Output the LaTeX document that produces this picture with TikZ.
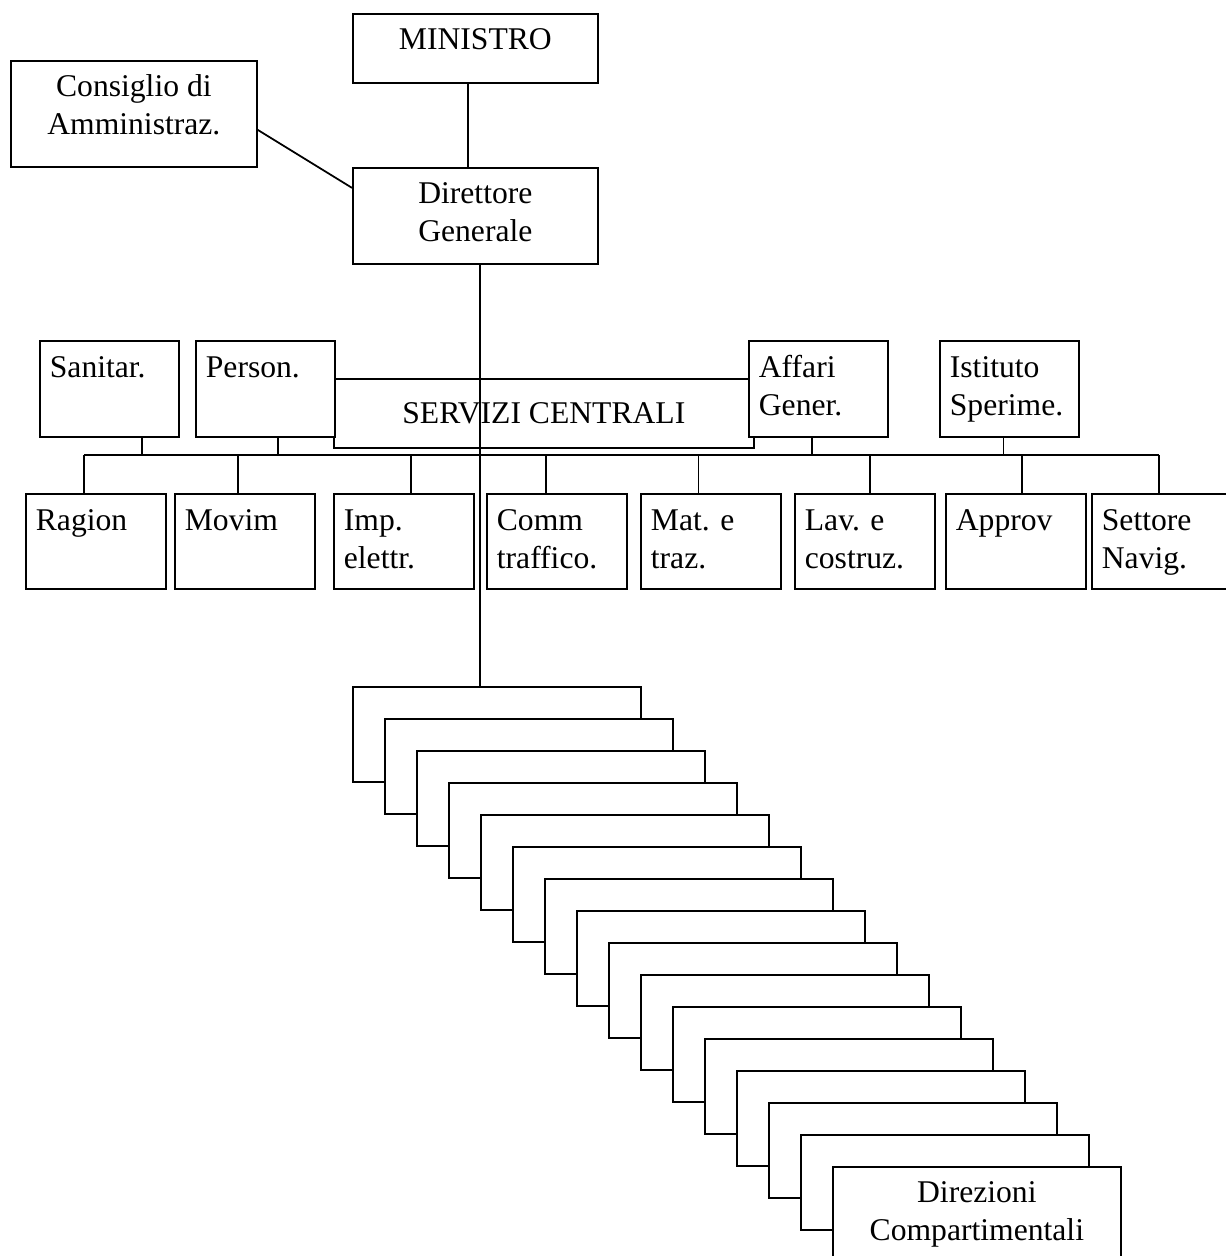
\documentclass[tikz,border=0pt]{standalone}
\usepackage{fontspec}
\setmainfont{Liberation Serif}
\usetikzlibrary{calc}

% text set at the top of a box, left or centred
\newcommand{\lcell}[3]{\parbox[c][#2][t]{#1}{\raggedright\leftskip=0.2cm\vspace*{0.21cm}\strut#3}}
\newcommand{\ccell}[3]{\parbox[c][#2][t]{#1}{\centering\vspace*{0.19cm}\strut#3}}

\begin{document}
\begin{tikzpicture}[
  x=0.02cm, y=-0.02cm,
  box/.style={draw, fill=white, line width=1pt, inner sep=0pt, anchor=north west,
    font=\fontsize{18}{21.6}\selectfont},
  link/.style={line width=1pt}
]
\useasboundingbox (0,0) rectangle (1225,1256);

% top
\node[box] (ministro) at (352,13) {\ccell{4.9cm}{1.38cm}{MINISTRO}};
\node[box] (consiglio) at (10,60) {\ccell{4.92cm}{2.12cm}{Consiglio di\\Amministraz.}};
\node[box] (dg) at (352,167) {\ccell{4.9cm}{1.92cm}{Direttore\\Generale}};
\draw[link] ([xshift=-0.15cm]ministro.south) -- ([xshift=-0.15cm]dg.north);
\draw[link] ([yshift=-0.32cm]consiglio.east) -- ([yshift=0.56cm]dg.west);

% servizi centrali
\node[box, minimum width=8.4cm, minimum height=1.38cm] (servizi) at (333,378) {SERVIZI CENTRALI};
\node[box] (sanitar) at (39,340) {\lcell{2.78cm}{1.92cm}{Sanitar.}};
\node[box] (person) at (195,340) {\lcell{2.78cm}{1.92cm}{Person.}};
\node[box] (affari) at (748,340) {\lcell{2.78cm}{1.92cm}{Affari\\Gener.}};
\node[box] (istituto) at (939,340) {\lcell{2.78cm}{1.92cm}{Istituto\\Sperime.}};

\node[box] (ragion) at (25,493) {\lcell{2.8cm}{1.9cm}{Ragion}};
\node[box] (movim) at (174,493) {\lcell{2.8cm}{1.9cm}{Movim}};
\node[box] (imp) at (333,493) {\lcell{2.8cm}{1.9cm}{Imp.\\elettr.}};
\node[box] (comm) at (486,493) {\lcell{2.8cm}{1.9cm}{Comm\\traffico.}};
\node[box] (mat) at (640,493) {\lcell{2.8cm}{1.9cm}{Mat. e\\traz.}};
\node[box] (lav) at (794,493) {\lcell{2.8cm}{1.9cm}{Lav. e\\costruz.}};
\node[box] (approv) at (945,493) {\lcell{2.8cm}{1.9cm}{Approv}};
\node[box] (settore) at (1091,493) {\lcell{2.8cm}{1.9cm}{Settore\\Navig.}};

% bus
\coordinate (bus) at (0,455);
\draw[link] ([xshift=-0.23cm]ragion.north |- bus) -- ([xshift=-0.06cm]settore.north |- bus);
\foreach \n/\s in {sanitar/0.66, person/0.26, affari/-0.13, istituto/-0.12}
  \draw[link] ([xshift=\s cm]\n.south) -- ([xshift=\s cm]\n.south |- bus);
\foreach \n/\s in {ragion/-0.23, movim/-0.14, imp/0.14, comm/-0.22, mat/-0.25, lav/0.1, approv/0.12, settore/-0.06}
  \draw[link] ([xshift=\s cm]\n.north) -- ([xshift=\s cm]\n.north |- bus);

% direzioni compartimentali
\foreach \i in {0,...,14}
  \node[box, minimum width=5.76cm, minimum height=1.9cm] (d\i) at (352+32*\i,686+32*\i) {};
\node[box] (d15) at (832,1166) {\ccell{5.76cm}{1.9cm}{Direzioni\\Compartimentali}};

\draw[link] ([xshift=0.09cm]dg.south) -- ([xshift=0.09cm]dg.south |- d0.north);
\end{tikzpicture}
\end{document}
